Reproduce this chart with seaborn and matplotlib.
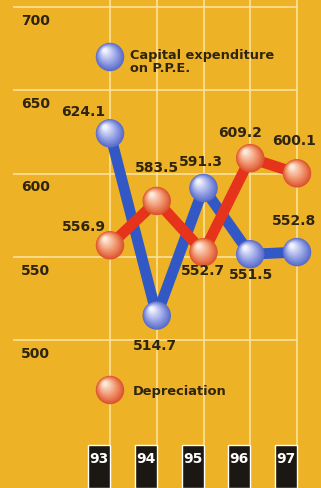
import matplotlib
matplotlib.use('Agg')
import matplotlib.pyplot as plt
import matplotlib.transforms as mtransforms
from matplotlib.colors import to_rgb
import seaborn as sns
import pandas as pd
import numpy as np

# data
years = [93, 94, 95, 96, 97]
year_labels = ['93', '94', '95', '96', '97']
capex = [624.1, 514.7, 591.3, 551.5, 552.8]
depreciation = [556.9, 583.5, 552.7, 609.2, 600.1]
y_ticks = [500, 550, 600, 650, 700]

# label offsets in pixels (dx, dy) from each ball
capex_label_off = [(-27, 21), (-2, -30), (-3, 26), (1, -21), (-3, 31)]
dep_label_off = [(-26, 18), (0, 33), (-1, -19), (-10, 25), (-3, 32)]

df = pd.DataFrame({
    'year': years * 2,
    'value': capex + depreciation,
    'series': ['Capital expenditure'] * 5 + ['Depreciation'] * 5,
})

BG = '#EEB227'
GRID = '#FAE6A4'
TXT = '#2E2410'
BLUE_LINE = '#3158C4'
RED_LINE = '#E5331C'

sns.set_style('white')
plt.rcParams['font.family'] = ['DejaVu Sans']

fig = plt.figure(figsize=(3.21, 4.88), dpi=100)
fig.patch.set_facecolor(BG)
ax = fig.add_axes([0, 0, 1, 1])
ax.set_facecolor(BG)
ax.axis('off')

# pixel mapping: year 93 -> x=110, 97 -> x=297 ; 700 -> y=7, 500 -> y=340
xpx = (297 - 110) / 4
ypx = (340 - 7) / 200
xlim = (93 - 110 / xpx, 97 + (321 - 297) / xpx)
ylim = (500 - (488 - 340) / ypx, 700 + 7 / ypx)

# grid
ax.hlines(y_ticks, xlim[0] + 13 / xpx, years[-1], color=GRID, lw=1.1, zorder=1)
ax.vlines(years, ylim[0], ylim[1], color=GRID, lw=1.1, zorder=1)

# y tick labels
ytr = mtransforms.offset_copy(
    mtransforms.blended_transform_factory(ax.transAxes, ax.transData),
    fig=fig, x=0, y=-14, units='dots')
for t in y_ticks:
    ax.text(21 / 321, t, str(t), transform=ytr, ha='left', va='center',
            fontsize=10, fontweight='bold', color=TXT, zorder=3)

# lines
sns.lineplot(data=df, x='year', y='value', hue='series',
             palette=[BLUE_LINE, RED_LINE], lw=7.8, legend=False, sort=False,
             ax=ax, zorder=3, solid_joinstyle='round', solid_capstyle='round')


def mix(c1, c2, t):
    a, b = np.array(to_rgb(c1)), np.array(to_rgb(c2))
    return tuple(a + (b - a) * t)


def balls(x, y, edge, base, light, base_tr, z):
    d = 20.5
    n = 14
    for i in range(n):
        t = i / (n - 1)
        if t < 0.35:
            col = mix(edge, base, t / 0.35)
        else:
            col = mix(base, light, (t - 0.35) / 0.65)
        size = d * (1 - 0.85 * t)
        tr = mtransforms.offset_copy(base_tr, fig=fig, x=-5 * t, y=6.5 * t, units='dots')
        sns.scatterplot(x=x, y=y, s=size ** 2, color=col, edgecolor='none',
                        linewidth=0, transform=tr, ax=ax, legend=False,
                        zorder=z + i * 0.01)


BLUE_BALL = ('#5A6CC8', '#8C9AE2', '#F2F3FF')
RED_BALL = ('#DC5430', '#EE8A62', '#FFE9D8')

balls(years, capex, *BLUE_BALL, ax.transData, 5)
balls(years, depreciation, *RED_BALL, ax.transData, 6)

# value labels
for xs, vals, offs in [(years, capex, capex_label_off), (years, depreciation, dep_label_off)]:
    for x, v, (dx, dy) in zip(xs, vals, offs):
        tr = mtransforms.offset_copy(ax.transData, fig=fig, x=dx, y=dy, units='dots')
        ax.text(x, v, f'{v:.1f}', transform=tr, ha='center', va='center',
                fontsize=10, fontweight='bold', color=TXT, zorder=8)

# legend
bx = 110 / 321
balls([bx], [1 - 57 / 488], *BLUE_BALL, ax.transAxes, 5)
balls([bx], [1 - 390 / 488], *RED_BALL, ax.transAxes, 5)
ax.text(130 / 321, 1 - 62 / 488, 'Capital expenditure\non P.P.E.', transform=ax.transAxes,
        ha='left', va='center', fontsize=9.3, fontweight='bold', color=TXT,
        linespacing=0.92, zorder=8)
ax.text(133 / 321, 1 - 391 / 488, 'Depreciation', transform=ax.transAxes,
        ha='left', va='center', fontsize=9.4, fontweight='bold', color=TXT, zorder=8)

ax.set_xlim(*xlim)
ax.set_ylim(*ylim)

# year boxes
box_top = ylim[1] - 445 / ypx
ax.bar(years, box_top - ylim[0], width=-22 / xpx, align='edge', bottom=ylim[0],
       color='#1B1712', zorder=9)
for x, lab in zip(years, year_labels):
    ax.text(x - 11 / xpx, ylim[1] - 459 / ypx, lab, ha='center', va='center',
            fontsize=10, fontweight='bold', color='white', zorder=10)

ax.set_xlim(*xlim)
ax.set_ylim(*ylim)
fig.savefig('out.png', dpi=100, facecolor=BG)
